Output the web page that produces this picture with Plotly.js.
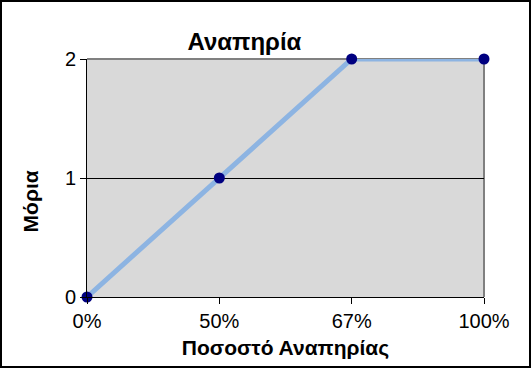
<!DOCTYPE html>
<html><head><meta charset="utf-8">
<script src="https://cdn.plot.ly/plotly-3.0.1.min.js"></script>
<style>
html,body{margin:0;padding:0;background:#fff;}
#chart{width:531px;height:368px;box-sizing:border-box;border:2px solid #000;}
</style></head>
<body><div id="chart"></div>
<script>
const categories = ["0%", "50%", "67%", "100%"];
const points = [0, 1, 2, 2];
const yTicks = [0, 1, 2];

const trace = {
  x: categories, y: points, type: 'scatter', mode: 'lines+markers',
  line: {color: '#8DB4E2', width: 5},
  marker: {color: '#000080', size: 11},
  cliponaxis: false, hoverinfo: 'none'
};
const layout = {
  width: 527, height: 364,
  margin: {l: 85, r: 45, t: 57, b: 69, pad: 0},
  paper_bgcolor: '#fff', plot_bgcolor: '#D9D9D9',
  showlegend: false,
  font: {family: 'Arial, Liberation Sans, sans-serif', color: '#000'},
  title: {text: 'Αναπηρία', font: {size: 24, family: 'Arial, Liberation Sans, sans-serif', weight: 'bold'}, x: 0.46, xanchor: 'center', y: 0.892, yanchor: 'middle'},
  xaxis: {
    type: 'category', range: [0, 3], fixedrange: true,
    tickmode: 'array', tickvals: categories, ticktext: categories,
    ticks: 'outside', ticklen: 6, tickcolor: '#000', tickwidth: 1,
    showline: true, linecolor: '#000', linewidth: 1, showgrid: false, zeroline: false,
    tickfont: {size: 20},
    title: {text: 'Ποσοστό Αναπηρίας', font: {size: 21, weight: 'bold'}, standoff: 9}
  },
  yaxis: {
    range: [0, 2], tickmode: 'array', tickvals: yTicks, ticktext: yTicks.map(String),
    ticks: 'outside', ticklen: 6, tickcolor: '#000', tickwidth: 1,
    showline: true, linecolor: '#000', linewidth: 1,
    showgrid: true, gridcolor: '#000', gridwidth: 1, zeroline: false,
    tickfont: {size: 20}
  },
  annotations: [
    {text: 'Μόρια', xref: 'paper', yref: 'paper', x: -0.142, y: 0.4, xanchor: 'center', yanchor: 'middle',
     textangle: -90, showarrow: false, font: {size: 21, weight: 'bold'}}
  ],
  shapes: [
    {type: 'line', xref: 'paper', yref: 'paper', x0: 0, x1: 1, y0: 1, y1: 1, line: {color: '#808080', width: 2}, layer: 'below'},
    {type: 'line', xref: 'paper', yref: 'paper', x0: 1, x1: 1, y0: 0, y1: 1, line: {color: '#808080', width: 2}, layer: 'below'}
  ]
};
Plotly.newPlot('chart', [trace], layout, {staticPlot: true, displayModeBar: false});
</script></body></html>
